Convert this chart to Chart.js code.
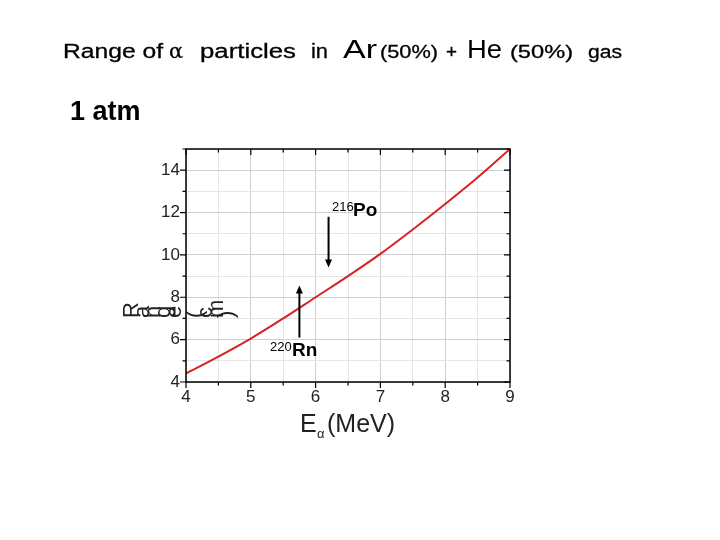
<!DOCTYPE html>
<html>
<head>
<meta charset="utf-8">
<script src="https://cdn.jsdelivr.net/npm/chart.js@4"></script>
<style>
  html, body { margin: 0; padding: 0; background: #fff; }
  #wrap { width: 720px; height: 540px; }
</style>
</head>
<body>
<div id="wrap"><canvas id="rangeChart" width="720" height="540"></canvas></div>
<script>
// energy of the alpha particle (MeV) and its range (cm)
const energies = [4, 4.5, 5, 5.5, 6, 6.5, 7, 7.5, 8, 8.5, 9];
const ranges = [4.4, 5.2, 6.05, 7.0, 8.0, 9.0, 10.05, 11.2, 12.4, 13.65, 15.0];
const xTickLabels = [4, 5, 6, 7, 8, 9];
const yTickLabels = [4, 6, 8, 10, 12, 14];
// arrows for the two alpha lines: [energy, from range, to range]
const poArrow = [6.2, 11.8, 9.4];
const rnArrow = [5.75, 6.1, 8.55];

const FONT = '"Liberation Sans", Arial, sans-serif';

// draw a piece of text squeezed/stretched to a given width
function fitText(ctx, text, font, x, y, w, heavy) {
    ctx.font = font;
    const m = ctx.measureText(text).width;
    ctx.save();
    ctx.translate(x, y);
    ctx.scale(w / m, 1);
    ctx.fillText(text, 0, 0);
    if (heavy) {
        ctx.lineWidth = heavy;
        ctx.strokeStyle = ctx.fillStyle;
        ctx.strokeText(text, 0, 0);
    }
    ctx.restore();
}

// --- extra drawing: frame, ticks, texts, arrows ---
const decorations = {
    id: 'decorations',
    afterDraw(chart) {
        const ctx = chart.ctx;
        const a = chart.chartArea;
        const xs = chart.scales.x, ys = chart.scales.y;
        ctx.save();

        // frame
        ctx.strokeStyle = '#000';
        ctx.lineWidth = 1.5;
        ctx.strokeRect(a.left, a.top, a.right - a.left, a.bottom - a.top);

        // ticks: out on left/bottom, in on top/right
        ctx.lineWidth = 1.2;
        ctx.beginPath();
        for (let v = 4; v <= 9.001; v += 0.5) {
            const px = xs.getPixelForValue(v);
            const len = Number.isInteger(v) ? 6 : 3.5;
            ctx.moveTo(px, a.bottom); ctx.lineTo(px, a.bottom + len);
            ctx.moveTo(px, a.top); ctx.lineTo(px, a.top + len);
        }
        for (let v = 4; v <= 15; v += 1) {
            const py = ys.getPixelForValue(v);
            const len = v % 2 === 0 ? 6 : 3.5;
            ctx.moveTo(a.left, py); ctx.lineTo(a.left - len, py);
            ctx.moveTo(a.right, py); ctx.lineTo(a.right - len, py);
        }
        ctx.stroke();

        ctx.fillStyle = '#000';
        ctx.textBaseline = 'alphabetic';
        ctx.textAlign = 'left';

        // title, drawn piece by piece
        const B = '20px ' + FONT;
        const S = '18px ' + FONT;
        const L = '26px ' + FONT;
        fitText(ctx, 'Range of', B, 63, 58, 100, 0.3);
        fitText(ctx, '\u03b1', '21px "DejaVu Serif", serif', 169, 58, 14, 0.3);
        fitText(ctx, 'particles', B, 200, 58, 96, 0.3);
        fitText(ctx, 'in', B, 311, 58, 17, 0.3);
        fitText(ctx, 'Ar', L, 343, 58, 34, 0);
        fitText(ctx, '(50%)', S, 380, 58, 58, 0.3);
        fitText(ctx, '+', S, 446, 58, 11, 0.3);
        fitText(ctx, 'He', L, 467, 58, 35, 0);
        fitText(ctx, '(50%)', S, 510, 58, 63, 0.3);
        fitText(ctx, 'gas', S, 588, 58, 34, 0.3);

        ctx.font = 'bold 27px ' + FONT;
        ctx.fillText('1 atm', 70, 120);

        // x axis title
        ctx.fillStyle = '#222';
        ctx.font = '25px ' + FONT;
        ctx.fillText('E', 300, 432);
        ctx.font = '13px ' + FONT;
        ctx.fillText('\u03b1', 317, 438);
        ctx.font = '25px ' + FONT;
        ctx.fillText('(MeV)', 327, 432);

        // y axis title, letters turned one by one as in the picture
        ctx.font = '22px ' + FONT;
        const yLabel = 'Range (cm)';
        let lx = 138;
        for (const ch of yLabel) {
            ctx.save();
            ctx.translate(lx, 318);
            ctx.rotate(-Math.PI / 2);
            ctx.fillText(ch, 0, 0);
            ctx.restore();
            lx += ch === 'R' ? 11 : 10.5;
        }

        // arrows
        ctx.fillStyle = '#000';
        ctx.strokeStyle = '#000';
        ctx.lineWidth = 2;
        function arrow(spec) {
            const px = xs.getPixelForValue(spec[0]);
            const y0 = ys.getPixelForValue(spec[1]);
            const y1 = ys.getPixelForValue(spec[2]);
            const dir = y1 > y0 ? 1 : -1;
            ctx.beginPath();
            ctx.moveTo(px, y0);
            ctx.lineTo(px, y1 - dir * 6);
            ctx.stroke();
            ctx.beginPath();
            ctx.moveTo(px, y1);
            ctx.lineTo(px - 3.5, y1 - dir * 8);
            ctx.lineTo(px + 3.5, y1 - dir * 8);
            ctx.closePath();
            ctx.fill();
        }
        arrow(poArrow);
        arrow(rnArrow);

        // isotope labels
        ctx.font = '13px ' + FONT;
        ctx.fillText('216', 332, 211);
        ctx.font = 'bold 19px ' + FONT;
        ctx.fillText('Po', 353, 216);
        ctx.font = '13px ' + FONT;
        ctx.fillText('220', 270, 351);
        ctx.font = 'bold 19px ' + FONT;
        ctx.fillText('Rn', 292, 356);

        ctx.restore();
    }
};

new Chart(document.getElementById('rangeChart').getContext('2d'), {
    type: 'line',
    data: {
        labels: energies,
        datasets: [{
            data: energies.map((e, i) => ({ x: e, y: ranges[i] })),
            borderColor: 'rgb(215, 35, 35)',
            borderWidth: 2,
            pointRadius: 0,
            cubicInterpolationMode: 'monotone',
            fill: false
        }]
    },
    options: {
        responsive: false,
        animation: false,
        events: [],
        layout: { padding: { left: 146, right: 210, top: 149, bottom: 128 } },
        plugins: { legend: { display: false }, tooltip: { enabled: false } },
        scales: {
            x: {
                type: 'linear',
                min: 4, max: 9,
                afterFit: s => { s.height = 30; },
                afterBuildTicks: s => {
                    const t = [];
                    for (let v = 4; v <= 9.001; v += 0.5) t.push({ value: v });
                    s.ticks = t;
                },
                ticks: {
                    autoSkip: false,
                    maxRotation: 0,
                    padding: 5,
                    color: '#222',
                    font: { family: FONT, size: 17 },
                    callback: v => xTickLabels.includes(v) ? String(v) : ''
                },
                grid: {
                    drawTicks: false,
                    color: ctx => Number.isInteger(ctx.tick.value) ? '#cfcfcf' : '#e6e6e6'
                },
                border: { display: false }
            },
            y: {
                type: 'linear',
                min: 4, max: 15,
                afterFit: s => { s.width = 40; },
                afterBuildTicks: s => {
                    const t = [];
                    for (let v = 4; v <= 15; v += 1) t.push({ value: v });
                    s.ticks = t;
                },
                ticks: {
                    autoSkip: false,
                    padding: 6,
                    color: '#222',
                    font: { family: FONT, size: 17 },
                    callback: v => yTickLabels.includes(v) ? String(v) : ''
                },
                grid: {
                    drawTicks: false,
                    color: ctx => ctx.tick.value % 2 === 0 ? '#cfcfcf' : '#e6e6e6'
                },
                border: { display: false }
            }
        }
    },
    plugins: [decorations]
});
</script>
</body>
</html>
